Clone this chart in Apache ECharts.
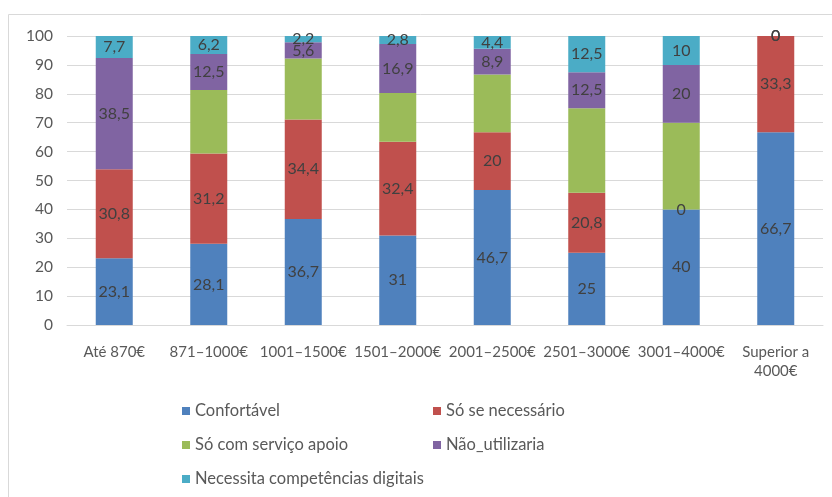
<!DOCTYPE html>
<html>
<head>
<meta charset="utf-8">
<script src="https://cdn.jsdelivr.net/npm/echarts@6/dist/echarts.min.js"></script>
<style>
  html, body { margin: 0; padding: 0; background: #fff; }
  #chart { width: 832px; height: 497px; }
</style>
</head>
<body>
<div id="chart"></div>
<script>
// faixas de rendimento
const categories = ['Até 870€', '871–1000€', '1001–1500€', '1501–2000€', '2001–2500€', '2501–3000€', '3001–4000€', 'Superior a\n4000€'];

const confortavel = [23.1, 28.1, 36.7, 31, 46.7, 25, 40, 66.7];
const soSeNecessario = [30.8, 31.2, 34.4, 32.4, 20, 20.8, 0, 33.3];
const soComApoio = [0, 22, 21.1, 16.9, 20, 29.2, 30, 0];
const naoUtilizaria = [38.5, 12.5, 5.6, 16.9, 8.9, 12.5, 20, 0];
const competencias = [7.7, 6.2, 2.2, 2.8, 4.4, 12.5, 10, 0];

const FONT = 'Lato';
const chart = echarts.init(document.getElementById('chart'));

const label = {
  show: true,
  position: 'inside',
  color: '#404040',
  fontFamily: FONT,
  fontSize: 16,
  formatter: p => String(p.value).replace('.', ',')
};

const mkSerie = (name, data, color, showLabel) => ({
  name,
  type: 'bar',
  stack: 'total',
  barWidth: 37,
  data,
  itemStyle: { color },
  label: showLabel ? label : { show: false },
  emphasis: { disabled: true }
});

// uma legenda por item, em duas colunas
const mkLegend = (name, left, top) => ({
  left, top,
  padding: 0,
  itemWidth: 8, itemHeight: 8,
  itemGap: 6,
  icon: 'rect',
  textStyle: { color: '#595959', fontSize: 16.5, fontFamily: FONT, lineHeight: 20 },
  data: [name]
});

chart.setOption({
  animation: false,
  textStyle: { fontFamily: FONT },
  graphic: [{
    type: 'rect',
    shape: { x: 8.5, y: 14.5, width: 840, height: 500 },
    style: { fill: 'none', stroke: '#d9d9d9', lineWidth: 1 }
  }],
  grid: { left: 67, right: 9, top: 36, bottom: 172 },
  legend: [
    mkLegend('Confortável', 182, 401),
    mkLegend('Só se necessário', 433, 401),
    mkLegend('Só com serviço apoio', 182, 435),
    mkLegend('Não_utilizaria', 433, 435),
    mkLegend('Necessita competências digitais', 182, 469)
  ],
  xAxis: {
    type: 'category',
    data: categories,
    axisLine: { lineStyle: { color: '#d9d9d9' } },
    axisTick: { show: false },
    axisLabel: { interval: 0, color: '#595959', fontSize: 15, fontFamily: FONT, margin: 18, lineHeight: 19 }
  },
  yAxis: {
    type: 'value',
    min: 0, max: 100, interval: 10,
    axisLine: { show: false },
    axisTick: { show: false },
    axisLabel: { color: '#595959', fontSize: 15.5, fontFamily: FONT, margin: 14 },
    splitLine: { lineStyle: { color: '#d9d9d9' } }
  },
  series: [
    mkSerie('Confortável', confortavel, '#4f81bd', true),
    mkSerie('Só se necessário', soSeNecessario, '#c0504d', true),
    mkSerie('Só com serviço apoio', soComApoio, '#9bbb59', false),
    mkSerie('Não_utilizaria', naoUtilizaria, '#8064a2', true),
    mkSerie('Necessita competências digitais', competencias, '#4bacc6', true)
  ]
});
</script>
</body>
</html>
